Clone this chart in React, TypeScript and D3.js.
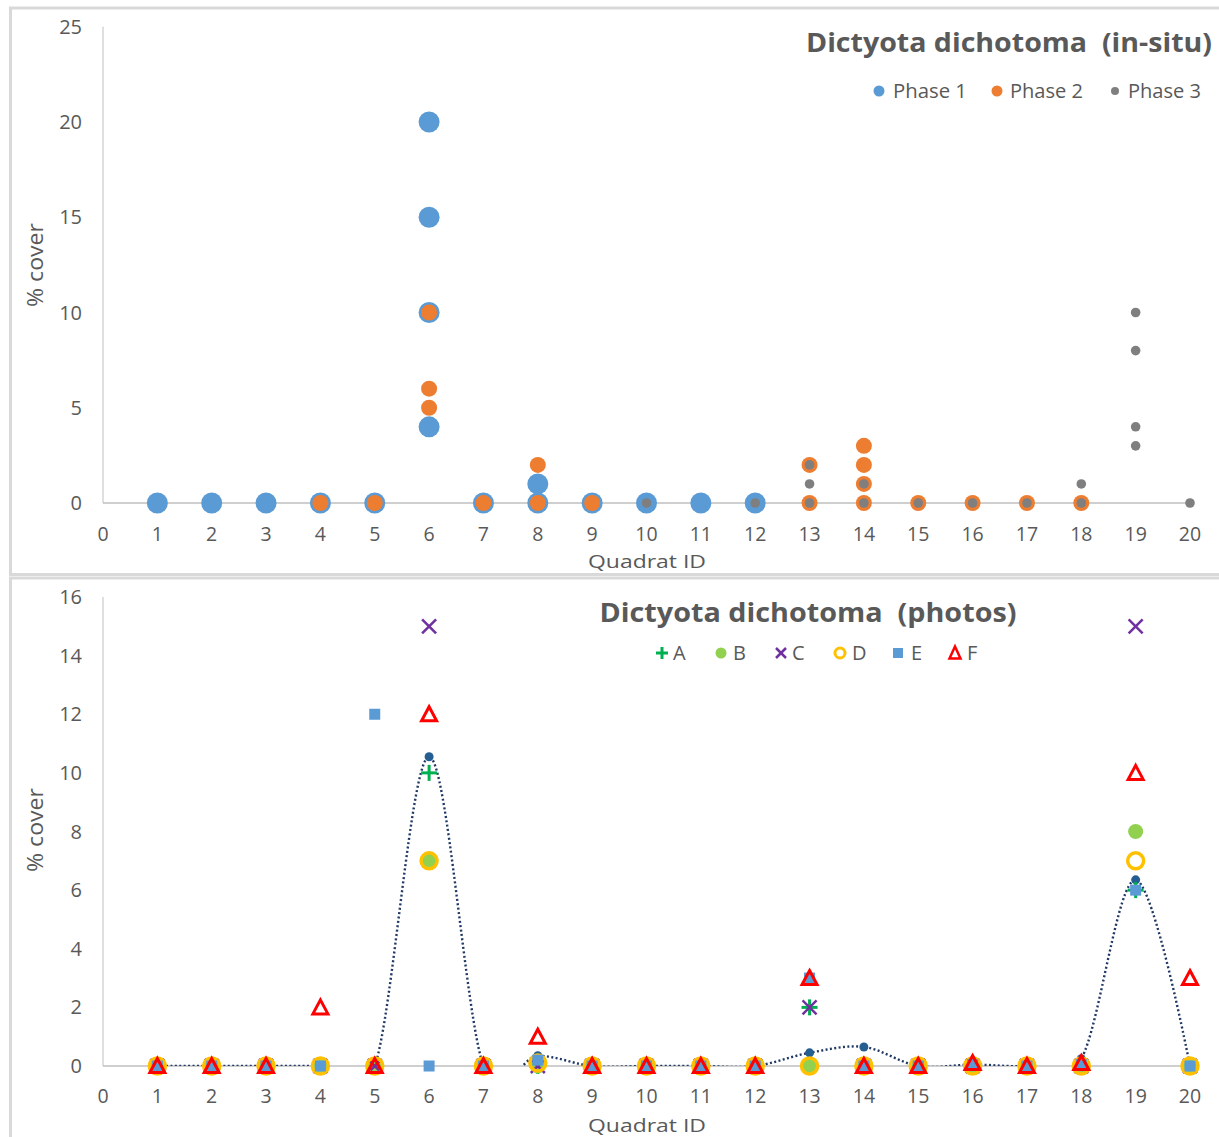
import React from "react";
import * as d3 from "d3";

// ---------- Top chart data (in-situ), [quadrat, % cover] ----------
const phase1: [number, number][] = [
  [1, 0], [2, 0], [3, 0], [4, 0], [5, 0],
  [6, 20], [6, 15], [6, 10], [6, 4],
  [7, 0], [8, 0], [8, 1], [9, 0], [10, 0], [11, 0], [12, 0],
];
const phase2: [number, number][] = [
  [4, 0], [5, 0], [6, 10], [6, 6], [6, 5], [7, 0], [8, 2], [8, 0], [9, 0],
  [13, 0], [13, 2], [14, 0], [14, 1], [14, 2], [14, 3],
  [15, 0], [16, 0], [17, 0], [18, 0],
];
const phase3: [number, number][] = [
  [10, 0], [12, 0], [13, 0], [13, 1], [13, 2], [14, 0], [14, 1],
  [15, 0], [16, 0], [17, 0], [18, 0], [18, 1],
  [19, 10], [19, 8], [19, 4], [19, 3], [20, 0],
];
const topYTicks = [0, 5, 10, 15, 20, 25];

// ---------- Bottom chart data (photos) ----------
const quadrats = d3.range(1, 21);
const seriesA = [0, 0, 0, 0, 0, 10, 0, 0, 0, 0, 0, 0, 2, 0, 0, 0, 0, 0, 6, 0];
const seriesB = [0, 0, 0, 0, 0, 7, 0, 0, 0, 0, 0, 0, 0, 0, 0, 0, 0, 0, 8, 0];
const seriesC = [0, 0, 0, 0, 0, 15, 0, 0, 0, 0, 0, 0, 2, 0, 0, 0, 0, 0, 15, 0];
const seriesD = [0, 0, 0, 0, 0, 7, 0, 0.1, 0, 0, 0, 0, 0, 0, 0, 0, 0, 0, 7, 0];
const seriesE = [0, 0, 0, 0, 12, 0, 0, 0.2, 0, 0, 0, 0, 3, 0, 0, 0.05, 0, 0.05, 6, 0];
const seriesF = [0, 0, 0, 2, 0, 12, 0, 1, 0, 0, 0, 0, 3, 0, 0, 0.1, 0, 0.1, 10, 3];
const seriesF_zeroHidden = [true, true, true, false, true, false, true, false, true, true, true, true, false, true, true, true, true, true, false, false];
const meanLine = [0, 0, 0, 0, 0, 10.55, 0, 0.35, 0, 0, 0, 0, 0.45, 0.65, 0, 0.05, 0, 0.25, 6.35, 0];
const bottomYTicks = [0, 2, 4, 6, 8, 10, 12, 14, 16];
const xTicks = d3.range(0, 21);

const FONT = "'Open Sans', 'Noto Sans', sans-serif";
const TXT = "#595959";
const AXIS = "#BFBFBF";
const BLUE = "#5B9BD5";
const ORANGE = "#ED7D31";
const GRAY = "#7F7F7F";

export default function App() {
  const x = d3.scaleLinear().domain([0, 20]).range([103, 1190]);
  const yTop = d3.scaleLinear().domain([0, 25]).range([503, 26.75]);
  const yBot = d3.scaleLinear().domain([0, 16]).range([1066, 597]);

  const meanPath = d3
    .line<number>()
    .x((_, i) => x(quadrats[i]))
    .y((d) => yBot(d))
    .curve(d3.curveCardinal.tension(0))(meanLine) || "";

  const plus = (cx: number, cy: number, s: number, color: string, key: string) => (
    <g key={key} stroke={color} strokeWidth={3}>
      <line x1={cx - s} x2={cx + s} y1={cy} y2={cy} />
      <line x1={cx} x2={cx} y1={cy - s} y2={cy + s} />
    </g>
  );
  const cross = (cx: number, cy: number, s: number, color: string, key: string) => (
    <g key={key} stroke={color} strokeWidth={2.5}>
      <line x1={cx - s} x2={cx + s} y1={cy - s} y2={cy + s} />
      <line x1={cx - s} x2={cx + s} y1={cy + s} y2={cy - s} />
    </g>
  );
  const tri = (cx: number, cy: number, key: string) => {
    const h = 13, w = 15;
    return (
      <path
        key={key}
        d={`M${cx},${cy - h / 2 - 1}L${cx + w / 2},${cy + h / 2}L${cx - w / 2},${cy + h / 2}Z`}
        fill="none"
        stroke="#FF0000"
        strokeWidth={3}
        strokeLinejoin="miter"
      />
    );
  };

  return (
    <svg
      width={1219}
      height={1137}
      style={{ position: "absolute", left: 0, top: 0, background: "#fff" }}
      fontFamily={FONT}
    >
      <defs>
        <clipPath id="botClip">
          <rect x={103} y={597} width={1087} height={469} />
        </clipPath>
      </defs>
      <rect x={0} y={0} width={1219} height={1137} fill="#fff" />
      {/* panel borders */}
      <rect x={10.5} y={8} width={1240} height={566.5} fill="none" stroke="#D9D9D9" strokeWidth={3} />
      <rect x={10.5} y={578} width={1240} height={600} fill="none" stroke="#D9D9D9" strokeWidth={3} />

      {/* ================= TOP CHART ================= */}
      <line x1={103} x2={103} y1={yTop(25)} y2={yTop(0)} stroke={AXIS} strokeWidth={1} />
      <line x1={103} x2={1190} y1={yTop(0)} y2={yTop(0)} stroke={AXIS} strokeWidth={1.3} />
      {topYTicks.map((t) => (
        <text key={"ty" + t} x={82} y={yTop(t)} dy="0.35em" textAnchor="end" fontSize={20} fill={TXT}>
          {t}
        </text>
      ))}
      {xTicks.map((t) => (
        <text key={"tx" + t} x={x(t)} y={534} dy="0.35em" textAnchor="middle" fontSize={19.5} fill={TXT}>
          {t}
        </text>
      ))}
      <text x={647} y={561} dy="0.35em" textAnchor="middle" fontSize={19} fill={TXT} textLength={118} lengthAdjust="spacingAndGlyphs">
        Quadrat ID
      </text>
      <text transform={`translate(35,265) rotate(-90)`} dy="0.35em" textAnchor="middle" fontSize={22} fill={TXT} textLength={84} lengthAdjust="spacingAndGlyphs">
        % cover
      </text>
      <text x={1212} y={52} textAnchor="end" fontSize={27} fontWeight="bold" fill={TXT} textLength={406} lengthAdjust="spacingAndGlyphs">
        Dictyota dichotoma {"\u00A0"}(in-situ)
      </text>
      {/* top legend */}
      <circle cx={879} cy={91} r={5.5} fill={BLUE} />
      <text x={893} y={91} dy="0.35em" fontSize={20} fill={TXT} textLength={74} lengthAdjust="spacingAndGlyphs">Phase 1</text>
      <circle cx={997} cy={91} r={5.5} fill={ORANGE} />
      <text x={1010} y={91} dy="0.35em" fontSize={20} fill={TXT} textLength={73} lengthAdjust="spacingAndGlyphs">Phase 2</text>
      <circle cx={1115} cy={91} r={4} fill={GRAY} />
      <text x={1128} y={91} dy="0.35em" fontSize={20} fill={TXT} textLength={73} lengthAdjust="spacingAndGlyphs">Phase 3</text>
      {/* top points */}
      {phase1.map(([q, v], i) => (
        <circle key={"p1" + i} cx={x(q)} cy={yTop(v)} r={10.5} fill={BLUE} />
      ))}
      {phase2.map(([q, v], i) => (
        <circle key={"p2" + i} cx={x(q)} cy={yTop(v)} r={8} fill={ORANGE} />
      ))}
      {phase3.map(([q, v], i) => (
        <circle key={"p3" + i} cx={x(q)} cy={yTop(v)} r={4.8} fill={GRAY} />
      ))}

      {/* ================= BOTTOM CHART ================= */}
      <line x1={103} x2={103} y1={yBot(16)} y2={yBot(0)} stroke={AXIS} strokeWidth={1} />
      <line x1={103} x2={1190} y1={yBot(0)} y2={yBot(0)} stroke={AXIS} strokeWidth={1.3} />
      {bottomYTicks.map((t) => (
        <text key={"by" + t} x={82} y={yBot(t)} dy="0.35em" textAnchor="end" fontSize={20} fill={TXT}>
          {t}
        </text>
      ))}
      {xTicks.map((t) => (
        <text key={"bx" + t} x={x(t)} y={1096} dy="0.35em" textAnchor="middle" fontSize={19.5} fill={TXT}>
          {t}
        </text>
      ))}
      <text x={647} y={1125} dy="0.35em" textAnchor="middle" fontSize={19} fill={TXT} textLength={118} lengthAdjust="spacingAndGlyphs">
        Quadrat ID
      </text>
      <text transform={`translate(35,830) rotate(-90)`} dy="0.35em" textAnchor="middle" fontSize={22} fill={TXT} textLength={84} lengthAdjust="spacingAndGlyphs">
        % cover
      </text>
      <text x={808} y={622} textAnchor="middle" fontSize={27} fontWeight="bold" fill={TXT} textLength={417} lengthAdjust="spacingAndGlyphs">
        Dictyota dichotoma {"\u00A0"}(photos)
      </text>
      {/* bottom legend */}
      {plus(662, 653, 6, "#00B050", "lgA")}
      <text x={673} y={653} dy="0.35em" fontSize={20} fill={TXT}>A</text>
      <circle cx={721} cy={653} r={5.5} fill="#92D050" />
      <text x={733} y={653} dy="0.35em" fontSize={20} fill={TXT}>B</text>
      {cross(781, 653, 5, "#7030A0", "lgC")}
      <text x={792} y={653} dy="0.35em" fontSize={20} fill={TXT}>C</text>
      <circle cx={840} cy={653} r={5} fill="none" stroke="#FFC000" strokeWidth={3} />
      <text x={852} y={653} dy="0.35em" fontSize={20} fill={TXT}>D</text>
      <rect x={893} y={648} width={10} height={10} fill={BLUE} />
      <text x={911} y={653} dy="0.35em" fontSize={20} fill={TXT}>E</text>
      <path d="M955,646.5L960.5,658.5L949.5,658.5Z" fill="none" stroke="#FF0000" strokeWidth={2.5} />
      <text x={967} y={653} dy="0.35em" fontSize={20} fill={TXT}>F</text>

      {/* mean smoothed dotted line */}
      <g clipPath="url(#botClip)">
        <path d={meanPath} fill="none" stroke="#203864" strokeWidth={2.4} strokeDasharray="2 2.4" />
      </g>
      {meanLine.map((v, i) => (
        <circle key={"m" + i} cx={x(quadrats[i])} cy={yBot(v)} r={4.5} fill="#255E91" />
      ))}
      {/* series markers */}
      {seriesA.map((v, i) => plus(x(quadrats[i]), yBot(v), 8, "#00B050", "a" + i))}
      {seriesB.map((v, i) => (
        <circle key={"b" + i} cx={x(quadrats[i])} cy={yBot(v)} r={7.5} fill="#92D050" />
      ))}
      {seriesC.map((v, i) => cross(x(quadrats[i]), yBot(v), 7, "#7030A0", "c" + i))}
      {seriesD.map((v, i) => (
        <circle key={"d" + i} cx={x(quadrats[i])} cy={yBot(v)} r={8} fill="none" stroke="#FFC000" strokeWidth={3.5} />
      ))}
      {seriesE.map((v, i) => (
        <rect key={"e" + i} x={x(quadrats[i]) - 5.5} y={yBot(v) - 5.5} width={11} height={11} fill={BLUE} />
      ))}
      {seriesF.map((v, i) =>
        seriesF_zeroHidden[i] || v !== 0 ? tri(x(quadrats[i]), yBot(v), "f" + i) : null
      )}
    </svg>
  );
}
